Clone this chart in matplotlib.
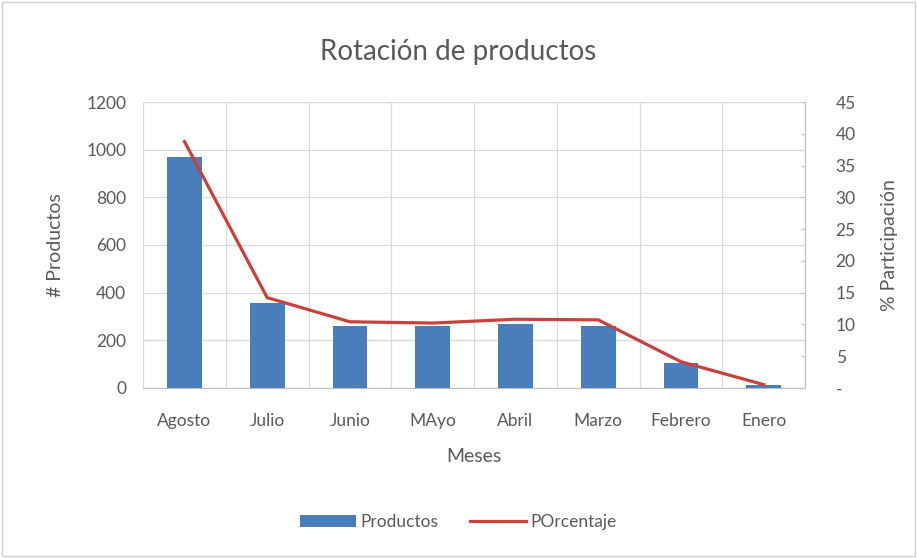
import numpy as np
import matplotlib.pyplot as plt
from matplotlib.ticker import FuncFormatter

meses = ['Agosto', 'Julio', 'Junio', 'MAyo', 'Abril', 'Marzo', 'Febrero', 'Enero']
productos = [970, 357, 260, 260, 269, 260, 105, 13]
porcentaje = [38.8, 14.2, 10.4, 10.2, 10.8, 10.7, 4.1, 0.5]

plt.rcParams['font.family'] = ['Lato', 'DejaVu Sans']
txt = '#595959'
grid = '#d9d9d9'

fig = plt.figure(figsize=(9.17, 5.58), dpi=100)
ax = fig.add_axes([0.156, 0.305, 0.722, 0.512])
x = np.arange(len(meses))

bars = ax.bar(x, productos, width=0.42, color='#4a7ebb', zorder=3, label='Productos')
ax.set_ylim(0, 1200)
ax.set_xlim(-0.5, len(meses) - 0.5)
ax.set_yticks(range(0, 1201, 200))
ax.set_xticks(x)
ax.set_xticklabels(meses)
ax.set_xticks(np.arange(-0.5, len(meses), 1), minor=True)
ax.grid(axis='y', color=grid, lw=0.9, zorder=0)
ax.grid(axis='x', which='minor', color=grid, lw=0.9, zorder=0)
ax.tick_params(axis='y', which='both', length=0, colors=txt, labelsize=12.5, pad=12)
ax.tick_params(axis='x', which='both', length=0, colors=txt, labelsize=12.5, pad=18)
for s in ['top', 'left', 'right']:
    ax.spines[s].set_visible(False)
ax.spines['bottom'].set_color('#bfbfbf')
ax.set_ylabel('# Productos', color=txt, fontsize=14, labelpad=16)
ax.set_xlabel('Meses', color=txt, fontsize=14, labelpad=14)

ax2 = ax.twinx()
line, = ax2.plot(x, porcentaje, color='#c9403c', lw=2.3, zorder=4, label='POrcentaje')
ax2.set_ylim(0, 45)
ax2.set_yticks(range(0, 46, 5))
ax2.yaxis.set_major_formatter(FuncFormatter(lambda v, p: '-' if v == 0 else '%d' % v))
ax2.tick_params(axis='y', length=3, direction='in', colors=txt, labelsize=12.5, pad=22)
ax2.tick_params(axis='y', color='#bfbfbf')
for s in ['top', 'left', 'bottom']:
    ax2.spines[s].set_visible(False)
ax2.spines['right'].set_color('#bfbfbf')
ax2.set_ylabel('% Participación', color=txt, fontsize=14, labelpad=18)

fig.suptitle('Rotación de productos', x=0.5, y=0.93, fontsize=20, color=txt)
fig.legend([bars, line], ['Productos', 'POrcentaje'], loc='center', bbox_to_anchor=(0.5, 0.065),
           ncol=2, frameon=False, fontsize=12.5, labelcolor=txt, handlelength=3.2,
           columnspacing=1.8, handletextpad=0.3)

fig.patches.append(plt.Rectangle((0.002, 0.003), 0.996, 0.994, transform=fig.transFigure,
                                 fill=False, edgecolor='#d0d0d0', lw=1))
fig.savefig('out.png', dpi=100)
